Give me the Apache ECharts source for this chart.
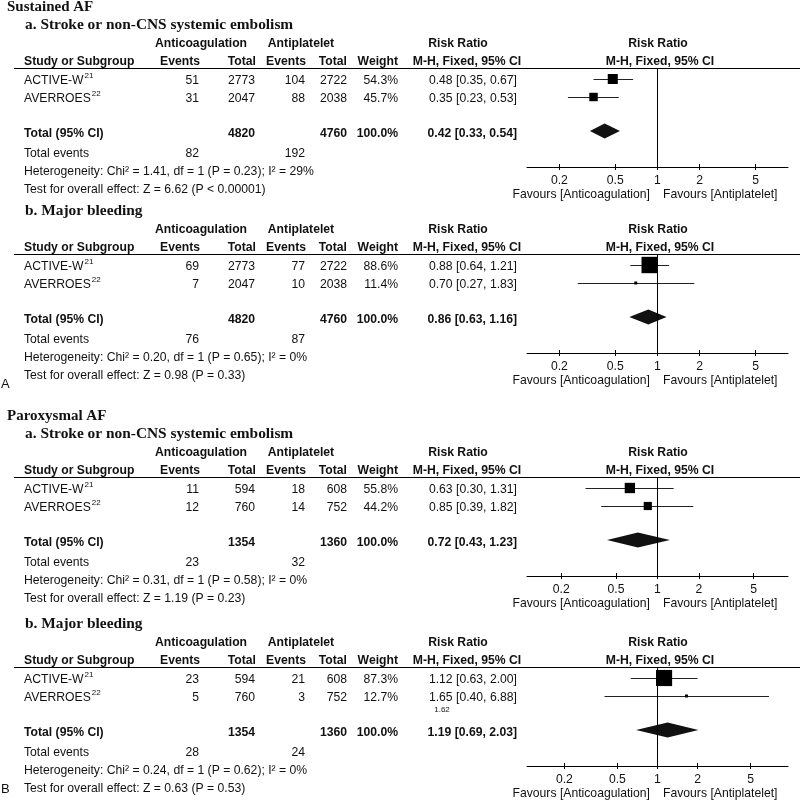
<!DOCTYPE html>
<html>
<head>
<meta charset="UTF-8">
<title>AF anticoagulation vs antiplatelet forest plots</title>
<script src="https://cdn.jsdelivr.net/npm/echarts@6/dist/echarts.min.js"></script>
<style>
    body, html {
        margin: 0;
        padding: 0;
        background: #fff;
    }
    #forest {
        width: 800px;
        height: 804px;
    }
</style>
</head>
<body>
<div id="forest"></div>
<script>
    // ---- data (panels: A-a, A-b, B-a, B-b) ----
    var sectionTitles = ['Sustained AF', '', 'Paroxysmal AF', ''];
    var outcomeTitles = ['a. Stroke or non-CNS systemic embolism', 'b. Major bleeding',
        'a. Stroke or non-CNS systemic embolism', 'b. Major bleeding'];
    var studies = ['ACTIVE-W', 'AVERROES'];
    var studyRefs = ['21', '22'];
    var antiEvents = [[51, 31], [69, 7], [11, 12], [23, 5]];
    var antiTotals = [[2773, 2047], [2773, 2047], [594, 760], [594, 760]];
    var plateEvents = [[104, 88], [77, 10], [18, 14], [21, 3]];
    var plateTotals = [[2722, 2038], [2722, 2038], [608, 752], [608, 752]];
    var weights = [[54.3, 45.7], [88.6, 11.4], [55.8, 44.2], [87.3, 12.7]];
    var rr = [[0.48, 0.35], [0.88, 0.70], [0.63, 0.85], [1.12, 1.65]];
    var rrLow = [[0.35, 0.23], [0.64, 0.27], [0.30, 0.39], [0.63, 0.40]];
    var rrHigh = [[0.67, 0.53], [1.21, 1.83], [1.31, 1.82], [2.00, 6.88]];
    var pooled = [0.42, 0.86, 0.72, 1.19];
    var pooledLow = [0.33, 0.63, 0.43, 0.69];
    var pooledHigh = [0.54, 1.16, 1.23, 2.03];
    var sumAntiTotal = [4820, 4820, 1354, 1354];
    var sumPlateTotal = [4760, 4760, 1360, 1360];
    var sumAntiEvents = [82, 76, 23, 28];
    var sumPlateEvents = [192, 87, 32, 24];
    var heterogeneity = [
        'Heterogeneity: Chi² = 1.41, df = 1 (P = 0.23); I² = 29%',
        'Heterogeneity: Chi² = 0.20, df = 1 (P = 0.65); I² = 0%',
        'Heterogeneity: Chi² = 0.31, df = 1 (P = 0.58); I² = 0%',
        'Heterogeneity: Chi² = 0.24, df = 1 (P = 0.62); I² = 0%'];
    var overallEffect = [
        'Test for overall effect: Z = 6.62 (P < 0.00001)',
        'Test for overall effect: Z = 0.98 (P = 0.33)',
        'Test for overall effect: Z = 1.19 (P = 0.23)',
        'Test for overall effect: Z = 0.63 (P = 0.53)'];
    var tickValues = [0.2, 0.5, 1, 2, 5];

    // ---- layout ----
    var ruleY = [68, 254, 477, 667];          // header rule of each panel
    var halfSpan = [0.93, 0.93, 0.948, 0.98];  // log10 half range of each x axis
    var rowOffsets = [13, 31];                  // table rows below the rule
    var markOffsets = [11, 29];                 // squares below the rule
    var pooledOffset = 63;
    var plotH = 99;
    var FS = 12.2;

    var SANS = '"Liberation Sans", Arial, sans-serif';
    var SERIF = '"Liberation Serif", "Times New Roman", serif';
    var INK = '#111';

    var measure = document.createElement('canvas').getContext('2d');
    function textWidth(s, font) {
        measure.font = font;
        return measure.measureText(s).width;
    }

    function txt(x, y, s, opt) {
        opt = opt || {};
        var font = (opt.bold ? 'bold ' : '') + (opt.size || FS) + 'px ' + (opt.family || SANS);
        return {
            type: 'text', x: x, y: y, silent: true,
            style: {text: s, font: font, fill: INK, align: opt.align || 'left', verticalAlign: 'middle'}
        };
    }

    function ci(v, lo, hi) {
        return v.toFixed(2) + ' [' + lo.toFixed(2) + ', ' + hi.toFixed(2) + ']';
    }

    var graphics = [];
    var grids = [], xAxes = [], yAxes = [], series = [];
    var logTicks = tickValues.map(function (v) { return Math.log10(v); });

    function tickLabel(v) {
        var best = tickValues[0];
        tickValues.forEach(function (t) {
            if (Math.abs(Math.log10(t) - v) < Math.abs(Math.log10(best) - v)) best = t;
        });
        return String(best);
    }

    for (var p = 0; p < 4; p++) {
        var r = ruleY[p];
        if (sectionTitles[p]) graphics.push(txt(7, r - 61, sectionTitles[p], {bold: true, size: 15, family: SERIF}));
        graphics.push(txt(25, r - 43, outcomeTitles[p], {bold: true, size: 15.4, family: SERIF}));

        graphics.push(txt(201, r - 24, 'Anticoagulation', {bold: true, align: 'center'}));
        graphics.push(txt(301, r - 24, 'Antiplatelet', {bold: true, align: 'center'}));
        graphics.push(txt(458, r - 24, 'Risk Ratio', {bold: true, align: 'center'}));
        graphics.push(txt(658, r - 24, 'Risk Ratio', {bold: true, align: 'center'}));

        graphics.push(txt(24, r - 6, 'Study or Subgroup', {bold: true}));
        graphics.push(txt(200, r - 6, 'Events', {bold: true, align: 'right'}));
        graphics.push(txt(256, r - 6, 'Total', {bold: true, align: 'right'}));
        graphics.push(txt(306, r - 6, 'Events', {bold: true, align: 'right'}));
        graphics.push(txt(347, r - 6, 'Total', {bold: true, align: 'right'}));
        graphics.push(txt(398, r - 6, 'Weight', {bold: true, align: 'right'}));
        graphics.push(txt(467, r - 6, 'M-H, Fixed, 95% CI', {bold: true, align: 'center'}));
        graphics.push(txt(660, r - 6, 'M-H, Fixed, 95% CI', {bold: true, align: 'center'}));

        graphics.push({
            type: 'line', silent: true,
            shape: {x1: 14, y1: r + 0.5, x2: 800, y2: r + 0.5},
            style: {stroke: '#000', lineWidth: 1}
        });

        for (var i = 0; i < studies.length; i++) {
            var y = r + rowOffsets[i];
            graphics.push(txt(24, y, studies[i]));
            var w = textWidth(studies[i], FS + 'px ' + SANS);
            graphics.push(txt(24 + w + 1, y - 5, studyRefs[i], {size: 8}));
            graphics.push(txt(199, y, String(antiEvents[p][i]), {align: 'right'}));
            graphics.push(txt(255, y, String(antiTotals[p][i]), {align: 'right'}));
            graphics.push(txt(305, y, String(plateEvents[p][i]), {align: 'right'}));
            graphics.push(txt(347, y, String(plateTotals[p][i]), {align: 'right'}));
            graphics.push(txt(398, y, weights[p][i].toFixed(1) + '%', {align: 'right'}));
            graphics.push(txt(517, y, ci(rr[p][i], rrLow[p][i], rrHigh[p][i]), {align: 'right'}));
        }

        var ty = r + 66;
        graphics.push(txt(24, ty, 'Total (95% CI)', {bold: true}));
        graphics.push(txt(255, ty, String(sumAntiTotal[p]), {bold: true, align: 'right'}));
        graphics.push(txt(347, ty, String(sumPlateTotal[p]), {bold: true, align: 'right'}));
        graphics.push(txt(398, ty, '100.0%', {bold: true, align: 'right'}));
        graphics.push(txt(517, ty, ci(pooled[p], pooledLow[p], pooledHigh[p]), {bold: true, align: 'right'}));

        graphics.push(txt(24, r + 86, 'Total events'));
        graphics.push(txt(199, r + 86, String(sumAntiEvents[p]), {align: 'right'}));
        graphics.push(txt(305, r + 86, String(sumPlateEvents[p]), {align: 'right'}));
        graphics.push(txt(24, r + 104, heterogeneity[p]));
        graphics.push(txt(24, r + 122, overallEffect[p]));

        graphics.push(txt(650, r + plotH + 28, 'Favours [Anticoagulation]', {align: 'right'}));
        graphics.push(txt(663, r + plotH + 28, 'Favours [Antiplatelet]'));

        // forest plot grid
        grids.push({left: 527, width: 261, top: r, height: plotH, outerBoundsMode: 'none'});
        var axisBase = {
            type: 'value', gridIndex: p, position: 'bottom',
            min: -halfSpan[p], max: halfSpan[p],
            splitLine: {show: false}
        };
        xAxes.push(Object.assign({}, axisBase, {
            axisLine: {show: true, onZero: false, lineStyle: {color: '#000', width: 1}},
            axisTick: {show: true, length: 3, customValues: logTicks, lineStyle: {color: '#000'}},
            axisLabel: {
                customValues: logTicks, formatter: tickLabel, margin: 8,
                color: INK, fontSize: FS, fontFamily: SANS
            }
        }));
        xAxes.push(Object.assign({}, axisBase, {
            axisLine: {show: false, onZero: false},
            axisTick: {show: true, inside: true, length: 3, customValues: logTicks, lineStyle: {color: '#000'}},
            axisLabel: {show: false}
        }));
        yAxes.push({type: 'value', gridIndex: p, min: 0, max: plotH, inverse: true, show: false});

        var studyData = [];
        for (var k = 0; k < studies.length; k++) {
            studyData.push([Math.log10(rrLow[p][k]), Math.log10(rrHigh[p][k]), markOffsets[k],
                Math.log10(rr[p][k]), weights[p][k]]);
        }
        series.push({
            type: 'custom', xAxisIndex: 2 * p, yAxisIndex: p, silent: true,
            data: studyData,
            renderItem: function (params, api) {
                var a = api.coord([api.value(0), api.value(2)]);
                var b = api.coord([api.value(1), api.value(2)]);
                var c = api.coord([api.value(3), api.value(2)]);
                var s = Math.max(3, api.value(4) * 0.185);
                return {
                    type: 'group',
                    children: [
                        {type: 'line', shape: {x1: a[0], y1: Math.round(a[1]) + 0.5, x2: b[0], y2: Math.round(b[1]) + 0.5},
                            style: {stroke: '#222', lineWidth: 1}},
                        {type: 'rect', shape: {x: c[0] - s / 2, y: c[1] - s / 2, width: s, height: s},
                            style: {fill: '#000'}}
                    ]
                };
            },
            markLine: {
                silent: true, symbol: ['none', 'none'], label: {show: false},
                lineStyle: {color: '#000', width: 1, type: 'solid'},
                data: [{xAxis: 0}]
            },
            z: 3
        });
        series.push({
            type: 'custom', xAxisIndex: 2 * p, yAxisIndex: p, silent: true,
            data: [[Math.log10(pooledLow[p]), Math.log10(pooledHigh[p]), pooledOffset, Math.log10(pooled[p])]],
            renderItem: function (params, api) {
                var a = api.coord([api.value(0), api.value(2)]);
                var b = api.coord([api.value(1), api.value(2)]);
                var c = api.coord([api.value(3), api.value(2)]);
                return {
                    type: 'polygon',
                    shape: {points: [[a[0], a[1]], [c[0], c[1] - 7.5], [b[0], b[1]], [c[0], c[1] + 7.5]]},
                    style: {fill: '#111'}
                };
            },
            z: 3
        });
    }

    // panel letters and the stray label printed under the AVERROES estimate in B-b
    graphics.push(txt(1, 384, 'A', {size: 13}));
    graphics.push(txt(1, 789, 'B', {size: 13}));
    graphics.push(txt(442, ruleY[3] + 43, '1.62', {size: 8, align: 'center'}));

    var chart = echarts.init(document.getElementById('forest'), null, {renderer: 'canvas'});
    chart.setOption({
        backgroundColor: '#fff',
        animation: false,
        grid: grids,
        xAxis: xAxes,
        yAxis: yAxes,
        series: series,
        graphic: {elements: graphics}
    });
</script>
</body>
</html>
